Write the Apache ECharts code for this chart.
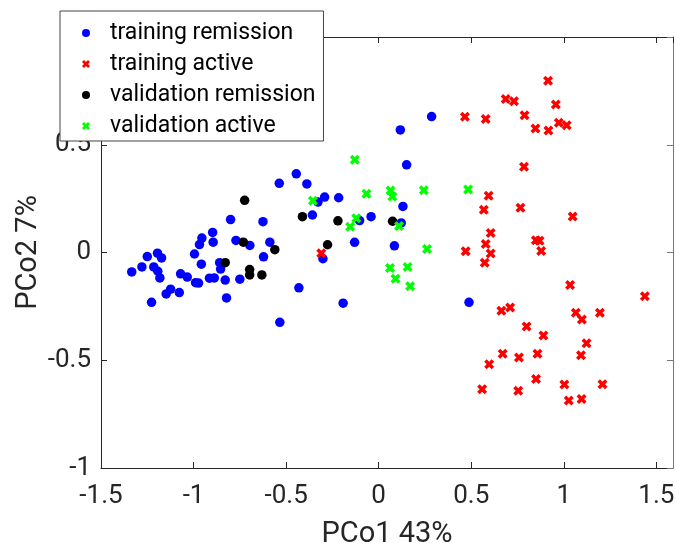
<!DOCTYPE html>
<html>
<head>
<meta charset="utf-8">
<script src="https://cdn.jsdelivr.net/npm/echarts@6/dist/echarts.min.js"></script>
<style>
  html, body { margin: 0; padding: 0; background: #fff; }
  #chart { width: 676px; height: 543px; }
</style>
</head>
<body>
<div id="chart"></div>
<script>
// PCo scores, [PCo1, PCo2]
const trainingRemission = [
  [-0.445, 0.365], [-0.537, 0.321], [-0.800, 0.153], [-0.625, 0.143], [-0.897, 0.093],
  [-0.955, 0.067], [-0.968, 0.037], [-0.894, 0.048], [-0.771, 0.056], [-0.696, 0.033],
  [-0.588, 0.048], [-0.622, -0.020], [-0.995, -0.007], [-0.958, -0.054], [-0.859, -0.047],
  [-0.854, -0.077], [-1.195, -0.003], [-1.173, -0.025], [-1.250, -0.019], [-1.279, -0.067],
  [-1.334, -0.090], [-1.215, -0.067], [-1.193, -0.087], [-1.182, -0.118], [-1.070, -0.099],
  [-1.034, -0.114], [-0.989, -0.140], [-0.973, -0.142], [-0.914, -0.119], [-0.888, -0.118],
  [-0.829, -0.128], [-0.750, -0.124], [-1.124, -0.170], [-1.148, -0.192], [-1.077, -0.186],
  [-1.227, -0.231], [-0.822, -0.211], [-0.534, -0.324], [-0.431, -0.164], [-0.388, 0.318],
  [-0.358, 0.174], [-0.328, 0.234], [-0.292, 0.257], [-0.301, -0.029], [-0.216, 0.254],
  [0.286, 0.631], [0.117, 0.569], [0.151, 0.407], [0.131, 0.214], [-0.041, 0.166],
  [-0.103, 0.148], [0.122, 0.137], [-0.130, 0.047], [0.085, 0.031], [-0.192, -0.235],
  [0.488, -0.231]
];
const trainingActive = [
  [0.915, 0.797], [0.686, 0.712], [0.731, 0.702], [0.957, 0.687], [0.466, 0.630],
  [0.578, 0.620], [0.788, 0.637], [0.847, 0.575], [0.917, 0.566], [0.973, 0.602],
  [1.016, 0.591], [0.785, 0.398], [0.594, 0.263], [0.568, 0.198], [0.766, 0.208],
  [1.048, 0.167], [0.605, 0.090], [0.578, 0.040], [0.849, 0.057], [0.869, 0.055],
  [0.470, 0.006], [0.878, 0.007], [0.605, -0.005], [0.573, -0.047], [-0.310, -0.003],
  [1.034, -0.151], [1.438, -0.203], [0.663, -0.270], [0.710, -0.255], [1.065, -0.280],
  [1.098, -0.311], [1.195, -0.280], [0.799, -0.343], [0.890, -0.385], [1.123, -0.421],
  [0.670, -0.470], [0.758, -0.487], [0.858, -0.470], [1.093, -0.477], [0.597, -0.518],
  [0.850, -0.587], [1.003, -0.613], [1.209, -0.611], [0.559, -0.635], [0.754, -0.642],
  [1.027, -0.687], [1.096, -0.680]
];
const validationRemission = [
  [-0.724, 0.242], [-0.731, 0.048], [-0.561, 0.013], [-0.829, -0.047], [-0.697, -0.079],
  [-0.697, -0.104], [-0.631, -0.104], [-0.412, 0.166], [-0.220, 0.147], [0.075, 0.145],
  [-0.276, 0.036]
];
const validationActive = [
  [-0.129, 0.430], [-0.355, 0.240], [-0.066, 0.273], [0.064, 0.288], [0.074, 0.260],
  [0.244, 0.289], [0.483, 0.292], [-0.121, 0.159], [-0.154, 0.119], [0.110, 0.123],
  [0.261, 0.016], [0.061, -0.072], [0.156, -0.067], [0.091, -0.122], [0.170, -0.157]
];
const seriesNames = ['training remission', 'training active', 'validation remission', 'validation active'];

const FONT = 'Roboto';
const AXIS_COLOR = '#262626';
// fat x marker, like matlab 'x' drawn with a thick line
const CROSS = 'path://M0,2.5 L2.5,0 L5,2.5 L7.5,0 L10,2.5 L7.5,5 L10,7.5 L7.5,10 L5,7.5 L2.5,10 L0,7.5 L2.5,5 Z';

const chart = echarts.init(document.getElementById('chart'));

const boxAxis = (position, color) => ({
  position: position,
  axisLine: { show: true, onZero: false, lineStyle: { color: color, width: 1 } },
  axisTick: { show: true, inside: true, length: 6, lineStyle: { color: color } },
  axisLabel: { show: false },
  splitLine: { show: false },
});

const option = {
  animation: false,
  backgroundColor: '#fff',
  grid: { left: 101, top: 37, width: 572, height: 431, outerBoundsMode: 'none', containLabel: false },
  legend: {
    data: seriesNames,
    orient: 'vertical',
    left: 60,
    top: 11,
    // icon bbox sits 15px inside the 38px item slot, so the left padding makes up for it
    padding: [10, 8, 3, 22],
    itemWidth: 38,
    itemHeight: 8,
    itemGap: 7,
    backgroundColor: '#fff',
    borderColor: '#444',
    borderWidth: 1,
    borderRadius: 0,
    textStyle: { fontFamily: FONT, fontSize: 23, lineHeight: 24, color: '#000' },
  },
  xAxis: [
    {
      type: 'value',
      min: -1.5,
      max: 1.59,
      interval: 0.5,
      position: 'bottom',
      name: 'PCo1 43%',
      nameLocation: 'middle',
      nameGap: 52,
      nameTextStyle: { fontFamily: FONT, fontSize: 29, color: AXIS_COLOR },
      axisLine: { show: true, onZero: false, lineStyle: { color: AXIS_COLOR } },
      axisTick: { show: true, inside: true, length: 6, lineStyle: { color: AXIS_COLOR } },
      axisLabel: { fontFamily: FONT, fontSize: 26, color: AXIS_COLOR, margin: 15, showMaxLabel: false },
      splitLine: { show: false },
    },
    Object.assign({ type: 'value', min: -1.5, max: 1.59, interval: 0.5 }, boxAxis('top', AXIS_COLOR)),
  ],
  yAxis: [
    {
      type: 'value',
      min: -1,
      max: 1,
      interval: 0.5,
      position: 'left',
      name: 'PCo2 7%',
      nameLocation: 'middle',
      nameGap: 58,
      nameMoveOverlap: false,
      nameTextStyle: { fontFamily: FONT, fontSize: 29, color: AXIS_COLOR },
      axisLine: { show: true, onZero: false, lineStyle: { color: AXIS_COLOR } },
      axisTick: { show: true, inside: true, length: 6, lineStyle: { color: AXIS_COLOR } },
      axisLabel: { fontFamily: FONT, fontSize: 26, color: AXIS_COLOR, margin: 10, padding: [6, 0, 0, 0] },
      splitLine: { show: false },
    },
    Object.assign({ type: 'value', min: -1, max: 1, interval: 0.5 }, boxAxis('right', '#777')),
  ],
  series: [
    {
      name: seriesNames[0],
      type: 'scatter',
      data: trainingRemission,
      symbol: 'circle',
      symbolSize: 9.5,
      itemStyle: { color: '#0000ff', opacity: 1 },
    },
    {
      name: seriesNames[1],
      type: 'scatter',
      data: trainingActive,
      symbol: CROSS,
      symbolSize: 10,
      itemStyle: { color: '#ff0000', opacity: 1 },
    },
    {
      name: seriesNames[2],
      type: 'scatter',
      data: validationRemission,
      symbol: 'circle',
      symbolSize: 9.5,
      itemStyle: { color: '#000000', opacity: 1 },
    },
    {
      name: seriesNames[3],
      type: 'scatter',
      data: validationActive,
      symbol: CROSS,
      symbolSize: 10,
      itemStyle: { color: '#00ff00', opacity: 1 },
    },
  ],
};

chart.setOption(option);
</script>
</body>
</html>
